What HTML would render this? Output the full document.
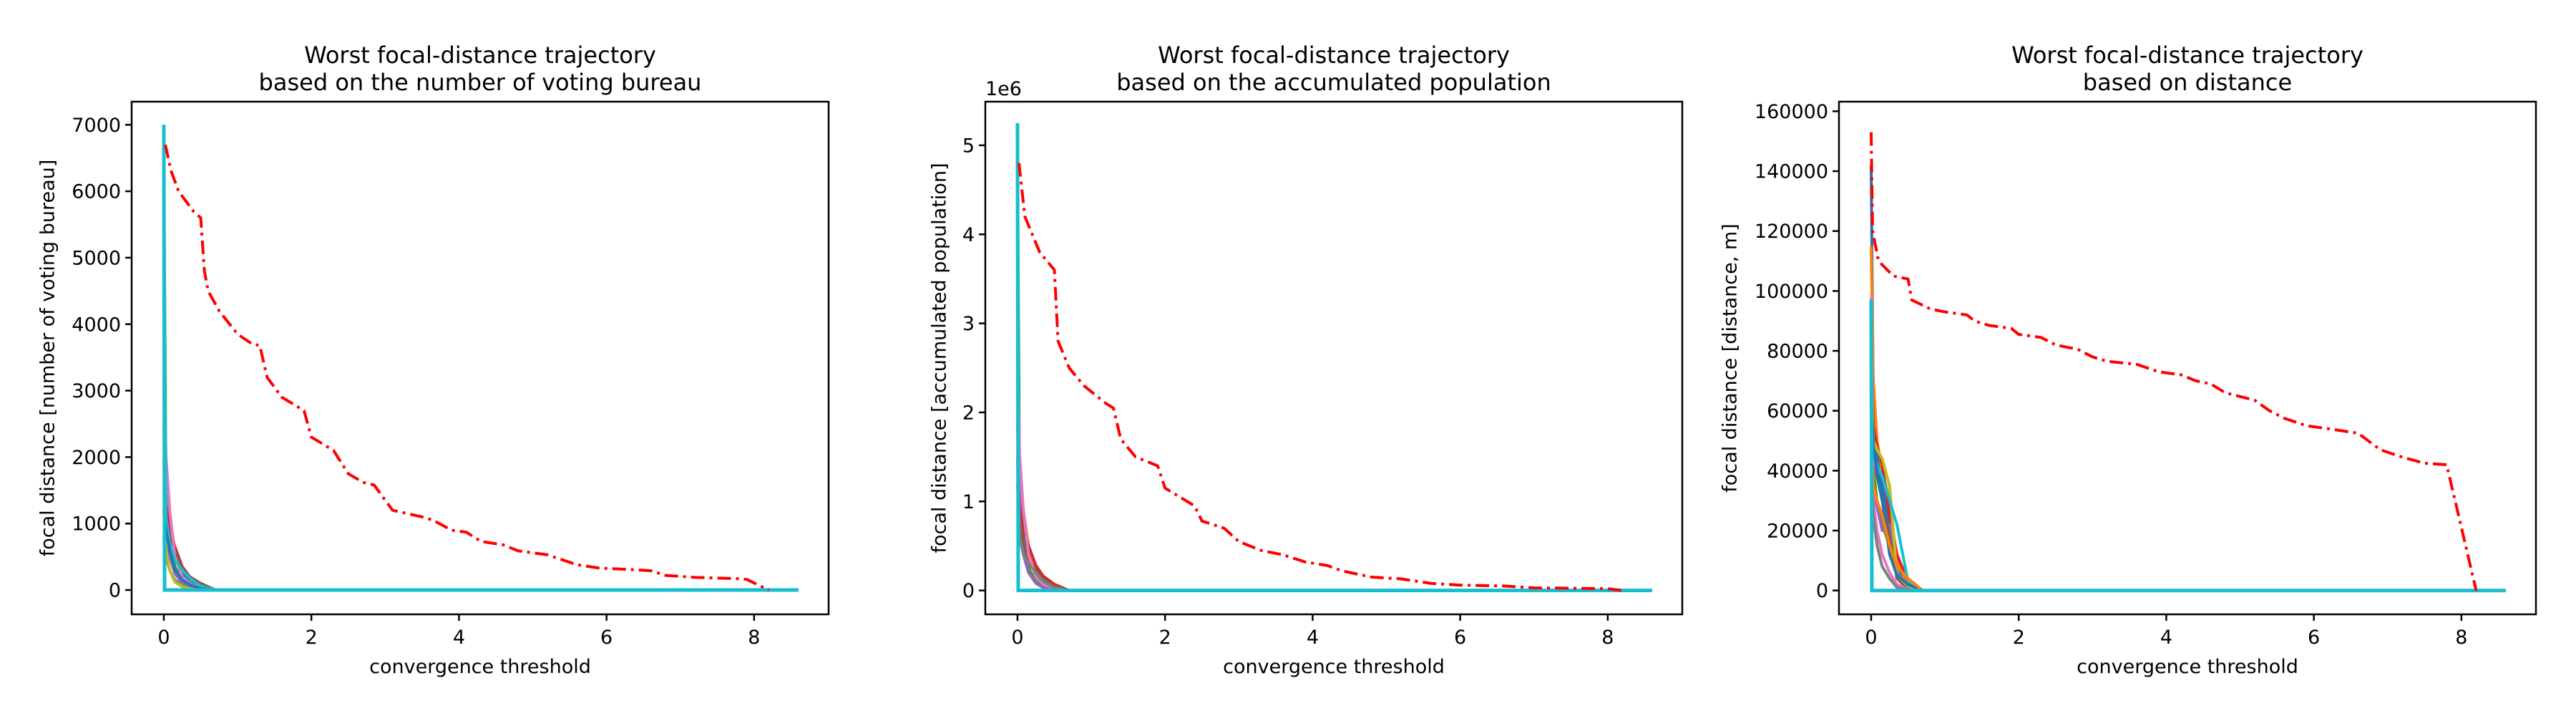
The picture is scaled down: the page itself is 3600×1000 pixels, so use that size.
<!DOCTYPE html>
<html><head><meta charset="utf-8">
<style>
html,body{margin:0;padding:0;background:#fff;}
svg{display:block;font-family:"DejaVu Sans","Liberation Sans",sans-serif;}
</style></head>
<body>
<svg id="fig" width="3600" height="1000" viewBox="0 0 3600 1000" xmlns="http://www.w3.org/2000/svg"></svg>
<script>
// ---- data ----
const xTicks = [0, 2, 4, 6, 8];
const yTicks1 = [0, 1000, 2000, 3000, 4000, 5000, 6000, 7000];
const yTicks2 = [0, 1, 2, 3, 4, 5];
const yTicks3 = [0, 20000, 40000, 60000, 80000, 100000, 120000, 140000, 160000];

const worstX1 = [0.02,0.1,0.2,0.4,0.5,0.55,0.6,0.75,1.0,1.2,1.3,1.4,1.6,1.9,2.0,2.3,2.5,2.7,2.85,3.1,3.5,3.65,3.9,4.1,4.3,4.6,4.8,5.2,5.6,5.9,6.3,6.6,6.8,7.2,7.8,7.9,8.2];
const worstY1 = [6700,6300,6000,5700,5600,4800,4500,4200,3850,3700,3680,3200,2900,2700,2300,2100,1750,1620,1580,1200,1100,1050,900,870,730,680,590,530,380,330,310,290,220,190,170,160,0];

const worstX2 = [0.02,0.1,0.3,0.5,0.55,0.7,0.9,1.2,1.3,1.4,1.6,1.9,2.0,2.2,2.4,2.5,2.8,3.0,3.3,3.6,3.9,4.2,4.4,4.8,5.2,5.6,6.0,6.6,7.0,8.0,8.2];
const worstY2 = [4.8,4.2,3.8,3.6,2.8,2.5,2.3,2.1,2.05,1.7,1.5,1.4,1.15,1.05,0.95,0.78,0.7,0.55,0.45,0.4,0.32,0.28,0.22,0.15,0.13,0.08,0.06,0.05,0.03,0.02,0];

const worstX3 = [0.0,0.02,0.1,0.3,0.5,0.55,0.8,1.0,1.3,1.4,1.6,1.9,2.0,2.3,2.5,2.8,3.0,3.2,3.6,3.9,4.2,4.4,4.6,4.8,5.2,5.4,5.6,5.9,6.2,6.6,6.9,7.2,7.5,7.8,8.2];
const worstY3 = [153000,120000,110000,105000,104000,97000,94000,93000,92000,90000,88500,87500,85500,84500,82000,80500,78000,76500,75500,73000,72000,70000,69000,66000,63500,60000,57500,55000,54000,52500,47000,44500,42500,42000,0];

// per-run trajectories, shared x grid
const runX = [0, 0.03, 0.08, 0.15, 0.25, 0.35, 0.5, 0.7, 8.6];
const runY1 = [[5000,1500,900,500,250,120,50,0,0],[3000,1800,1100,600,300,180,80,0,0],[6500,1200,700,350,150,60,20,0,0],[2500,1300,900,650,350,200,90,0,0],[4000,900,500,250,100,40,10,0,0],[1500,1000,800,600,350,200,100,0,0],[3500,2000,1200,500,200,100,30,0,0],[800,500,300,150,80,30,10,0,0],[2000,600,300,120,50,20,5,0,0],[4500,1100,700,450,300,180,60,0,0],[1200,900,600,300,150,80,20,0,0]];
const runY2 = [[3.8,1.1,0.7,0.4,0.2,0.1,0.04,0,0],[2.2,1.4,0.9,0.5,0.25,0.15,0.06,0,0],[4.9,0.9,0.5,0.25,0.1,0.05,0.02,0,0],[1.9,1.0,0.7,0.5,0.28,0.16,0.07,0,0],[3.0,0.7,0.4,0.2,0.08,0.03,0.01,0,0],[1.2,0.8,0.55,0.35,0.22,0.13,0.05,0,0],[2.6,1.5,0.9,0.4,0.15,0.07,0.02,0,0],[1.5,0.6,0.4,0.3,0.2,0.1,0.03,0,0]];
const runY3 = [[142000,60000,45000,35000,20000,8000,2000,0,0],[115000,70000,50000,40000,30000,10000,1500,0,0],[90000,40000,30000,22000,15000,5000,1000,0,0],[80000,55000,48000,42000,25000,12000,3000,0,0],[60000,35000,28000,20000,22000,6000,1000,0,0],[50000,45000,38000,30000,18000,4000,500,0,0],[98000,30000,20000,12000,6000,2000,300,0,0],[40000,25000,15000,8000,4000,1000,200,0,0],[70000,50000,47000,44000,35000,5000,1500,0,0],[55000,45000,42000,38000,30000,22000,3000,0,0],[65000,48000,40000,30000,12000,5000,2000,0,0],[45000,35000,30000,25000,15000,8000,4000,0,0]];
const spikeY = [7000, 5.25, 97000];

const colors = ['#1f77b4','#ff7f0e','#2ca02c','#d62728','#9467bd','#8c564b','#e377c2','#7f7f7f','#bcbd22','#17becf'];
const svg = document.getElementById('fig');
const NS = 'http://www.w3.org/2000/svg';
function mk(tag, attrs, parent){ const e=document.createElementNS(NS,tag); for(const k in attrs) e.setAttribute(k,attrs[k]); (parent||svg).appendChild(e); return e; }

const panels = [
  {left:184, yMin:-366, yMax:7348, ticks:yTicks1, title:['Worst focal-distance trajectory','based on the number of voting bureau'], ylab:'focal distance [number of voting bureau]', ylabX:67, wx:worstX1, wy:worstY1, runs:runY1, spike:spikeY[0], name:'bureau'},
  {left:1377, yMin:-0.268, yMax:5.49, ticks:yTicks2, title:['Worst focal-distance trajectory','based on the accumulated population'], ylab:'focal distance [accumulated population]', ylabX:1313, wx:worstX2, wy:worstY2, runs:runY2, spike:spikeY[1], name:'population', offset:'1e6'},
  {left:2570, yMin:-7960, yMax:163200, ticks:yTicks3, title:['Worst focal-distance trajectory','based on distance'], ylab:'focal distance [distance, m]', ylabX:2418, wx:worstX3, wy:worstY3, runs:runY3, spike:spikeY[2], name:'distance'}
];
const W=974, TOP=142, BOT=858, xMin=-0.436, xMax=9.01;

panels.forEach((p,pi)=>{
  const g = mk('g',{});
  
  
  const sx = v => p.left + (v - xMin)/(xMax - xMin)*W;
  const sy = v => BOT - (v - p.yMin)/(p.yMax - p.yMin)*(BOT-TOP);
  const cx = p.left + W/2;
  const t = mk('text',{x:cx,y:88,'text-anchor':'middle','font-size':32,fill:'#000'},g);
  
  
  mk('tspan',{x:cx,dy:0},t).textContent=p.title[0];
  mk('tspan',{x:cx,dy:38},t).textContent=p.title[1];
  const clip = mk('clipPath',{id:'c'+pi},g);
  mk('rect',{x:p.left,y:TOP,width:W,height:BOT-TOP},clip);
  const plot = mk('g',{'clip-path':'url(#c'+pi+')'},g);
  p.runs.forEach((ys,ri)=>{
    const pts = runX.map((x,i)=>sx(x)+','+sy(ys[i])).join(' ');
    const l = mk('polyline',{points:pts,fill:'none',stroke:colors[ri%10],'stroke-width':4,'stroke-linejoin':'round'},plot);
    
    
  });
  const sp = mk('polyline',{points:[sx(0)+','+sy(p.spike), sx(0.01)+','+sy(0), sx(8.6)+','+sy(0)].join(' '),fill:'none',stroke:'#17becf','stroke-width':5},plot);
  
  
  const wp = p.wx.map((x,i)=>sx(x)+','+sy(p.wy[i])).join(' ');
  const w = mk('polyline',{points:wp,fill:'none',stroke:'#ff0000','stroke-width':4,'stroke-dasharray':'19 7 4 7'},plot);
  
  
  const fr = mk('rect',{x:p.left,y:TOP,width:W,height:BOT-TOP,fill:'none',stroke:'#000','stroke-width':2.5},g);
  
  
  xTicks.forEach(v=>{
    const x=sx(v);
    mk('line',{x1:x,y1:BOT,x2:x,y2:BOT+9,stroke:'#000','stroke-width':2.5},g);
    const tl = mk('text',{x:x,y:899,'text-anchor':'middle','font-size':27,fill:'#000'},g);
    
    
    tl.textContent=String(v);
  });
  p.ticks.forEach(v=>{
    const y=sy(v);
    mk('line',{x1:p.left-9,y1:y,x2:p.left,y2:y,stroke:'#000','stroke-width':2.5},g);
    const tl = mk('text',{x:p.left-15,y:y+9.5,'text-anchor':'end','font-size':27,fill:'#000'},g);
    
    
    tl.textContent=String(v);
  });
  if(p.offset){
    const o = mk('text',{x:p.left,y:133,'font-size':27,fill:'#000'},g);
    
    
    o.textContent=p.offset;
  }
  const xl = mk('text',{x:cx,y:940,'text-anchor':'middle','font-size':27,fill:'#000'},g);
  
  
  xl.textContent='convergence threshold';
  const ym=(TOP+BOT)/2;
  const yl = mk('text',{x:p.ylabX,y:ym,'text-anchor':'middle','dominant-baseline':'central','font-size':27,fill:'#000',transform:'rotate(-90 '+p.ylabX+' '+ym+')'},g);
  
  
  yl.textContent=p.ylab;
});
</script>
</body></html>
